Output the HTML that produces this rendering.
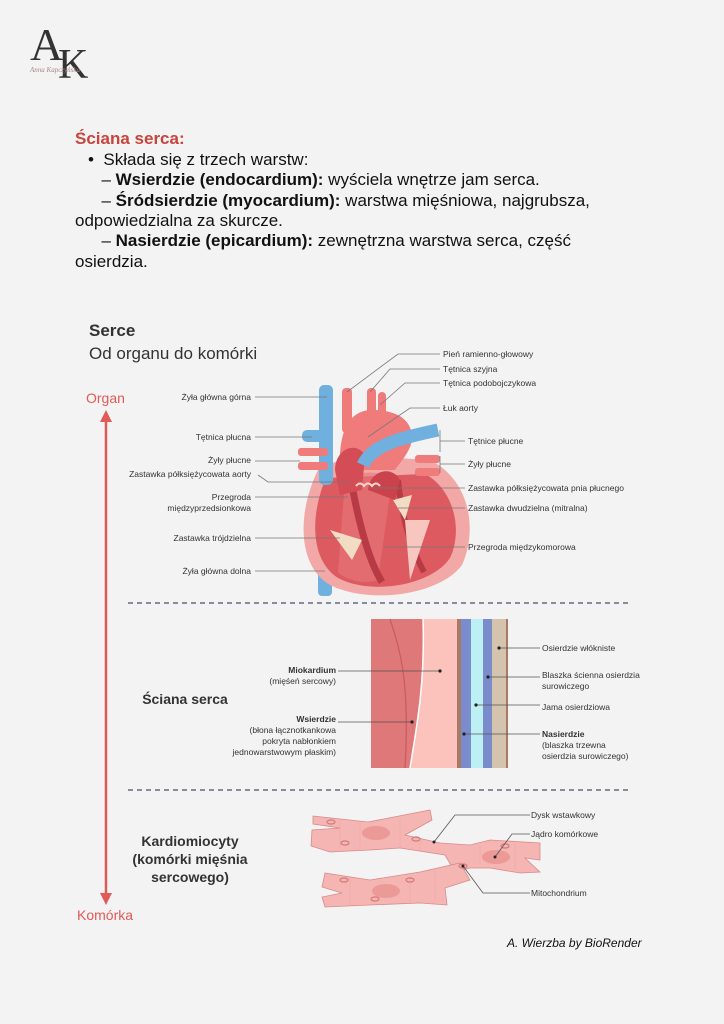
<!DOCTYPE html>
<html><head><meta charset="utf-8"><style>
body{margin:0;background:#f3f3f3;}
#p{position:relative;width:724px;height:1024px;overflow:hidden;background:#f3f3f3;font-family:"Liberation Sans",sans-serif;color:#111;}
.t{position:absolute;font-size:17px;line-height:20.5px;white-space:nowrap;}
</style></head><body><div id="p">
<div style="position:absolute;left:30px;top:22px;font-family:'Liberation Serif',serif;font-size:46px;color:#333;line-height:46px;">A</div>
<div style="position:absolute;left:58px;top:44px;font-family:'Liberation Serif',serif;font-size:42px;color:#333;line-height:42px;">K</div>
<div style="position:absolute;left:30px;top:66px;font-family:'Liberation Serif',serif;font-style:italic;font-size:7px;color:#a88;">Anna Kapczyńska</div>
<div class="t" style="left:75px;top:129px;color:#c8443c;font-weight:bold;">Ściana serca:</div>
<div class="t" style="left:88px;top:150px;">•&nbsp; Składa się z trzech warstw:</div>
<div class="t" style="left:92px;top:170px;">&nbsp;&nbsp;– <b>Wsierdzie (endocardium):</b> wyściela wnętrze jam serca.</div>
<div class="t" style="left:92px;top:191px;">&nbsp;&nbsp;– <b>Śródsierdzie (myocardium):</b> warstwa mięśniowa, najgrubsza,</div>
<div class="t" style="left:75px;top:211px;">odpowiedzialna za skurcze.</div>
<div class="t" style="left:92px;top:231px;">&nbsp;&nbsp;– <b>Nasierdzie (epicardium):</b> zewnętrzna warstwa serca, część</div>
<div class="t" style="left:75px;top:252px;">osierdzia.</div>

<svg width="724" height="1024" style="position:absolute;left:0;top:0" font-family="Liberation Sans, sans-serif">
<text x="89" y="336" font-size="17" font-weight="bold" fill="#333">Serce</text>
<text x="89" y="359" font-size="17" fill="#333">Od organu do komórki</text>
<text x="86" y="403" font-size="14" fill="#e05a57">Organ</text>
<text x="77" y="920" font-size="14" fill="#e05a57">Komórka</text>
<line x1="106" y1="420" x2="106" y2="895" stroke="#e05a57" stroke-width="2.5"/>
<polygon points="100,422 112,422 106,410" fill="#e05a57"/>
<polygon points="100,893 112,893 106,905" fill="#e05a57"/>
<line x1="128" y1="603" x2="628" y2="603" stroke="#666a80" stroke-width="1.5" stroke-dasharray="5,4"/>
<line x1="128" y1="790" x2="628" y2="790" stroke="#666a80" stroke-width="1.5" stroke-dasharray="5,4"/>

<!-- heart -->
<g>
<rect x="318" y="560" width="14" height="36" rx="4" fill="#6fb0de"/>
<path d="M318 470 C298 510 296 565 330 585 C370 605 440 595 462 565 C478 530 470 480 430 460 L350 455 Z" fill="#f2a8a6"/>
<path d="M326 478 C310 515 310 560 338 578 C372 596 432 585 450 558 C464 528 452 488 425 474 Z" fill="#dc5a60"/>
<path d="M345 480 C362 470 380 470 392 480 L378 580 C365 585 345 580 338 572 Z" fill="#e8787c" opacity=".6"/>
<path d="M350 475 C358 520 368 560 382 582" stroke="#b83a44" stroke-width="7" fill="none"/>
<path d="M398 480 C402 520 412 550 424 572" stroke="#b83a44" stroke-width="6" fill="none"/>
<path d="M405 520 L430 520 L410 580 Z" fill="#f7c6bf"/>
<path d="M330 530 L362 540 L352 560 Z" fill="#f2dcc4"/>
<path d="M393 500 L412 495 L405 520 Z" fill="#f2dcc4"/>
<!-- aorta arch -->
<path d="M340 470 C338 430 350 410 372 410 C395 410 410 418 412 435 C413 450 400 462 395 470 Z" fill="#ef7b7b"/>
<rect x="342" y="388" width="10" height="45" rx="4" fill="#ef7b7b"/>
<rect x="367" y="388" width="9" height="36" rx="4" fill="#ef7b7b"/>
<rect x="378" y="392" width="8" height="32" rx="4" fill="#ef7b7b"/>
<!-- left atrium / trunk chambers -->
<path d="M335 470 C335 450 355 440 365 455 L362 490 L340 495 Z" fill="#d44c55"/>
<path d="M368 490 C370 470 392 465 400 480 L395 500 Z" fill="#c9424c"/>
<rect x="319" y="385" width="14" height="100" rx="5" fill="#6fb0de"/>
<rect x="302" y="430" width="22" height="12" rx="5" fill="#6fb0de"/>
<path d="M363 465 C372 445 400 438 438 430" stroke="#6fb0de" stroke-width="13" fill="none"/>
<rect x="298" y="448" width="30" height="8" rx="3" fill="#ef7b7b"/>
<rect x="298" y="462" width="30" height="8" rx="3" fill="#ef7b7b"/>
<rect x="415" y="455" width="25" height="8" rx="3" fill="#ef7b7b"/>
<rect x="415" y="468" width="25" height="8" rx="3" fill="#ef7b7b"/>
<path d="M356 486 q4 -5 8 0 q4 -5 8 0 q4 -5 8 0" stroke="#f7d7cc" stroke-width="2" fill="none"/>
</g>
<g stroke="#777" stroke-width="0.8" fill="none">
<path d="M255 397 H327"/><path d="M255 437 H312"/><path d="M255 461 H300"/><path d="M258 475 L268 482 H350"/><path d="M255 497 H348"/><path d="M255 538 H340"/><path d="M255 571 H325"/>
<path d="M440 354 H398 L347 392"/><path d="M440 369 H390 L370 392"/><path d="M440 383 H405 L380 405"/><path d="M440 408 H410 L368 437"/>
<path d="M440 430 V452 M440 441 H465"/><path d="M440 456 V473 M440 464 H465"/><path d="M372 488 H465"/><path d="M398 508 H465"/><path d="M385 547 H465"/>
</g>
<g font-size="8.5" fill="#333">
<text x="251" y="400" text-anchor="end">Żyła główna górna</text>
<text x="251" y="440" text-anchor="end">Tętnica płucna</text>
<text x="251" y="463" text-anchor="end">Żyły płucne</text>
<text x="251" y="477" text-anchor="end">Zastawka półksiężycowata aorty</text>
<text x="251" y="500" text-anchor="end">Przegroda</text>
<text x="251" y="511" text-anchor="end">międzyprzedsionkowa</text>
<text x="251" y="541" text-anchor="end">Zastawka trójdzielna</text>
<text x="251" y="574" text-anchor="end">Żyła główna dolna</text>
<text x="443" y="357">Pień ramienno-głowowy</text>
<text x="443" y="372">Tętnica szyjna</text>
<text x="443" y="386">Tętnica podobojczykowa</text>
<text x="443" y="411">Łuk aorty</text>
<text x="468" y="444">Tętnice płucne</text>
<text x="468" y="467">Żyły płucne</text>
<text x="468" y="491">Zastawka półksiężycowata pnia płucnego</text>
<text x="468" y="511">Zastawka dwudzielna (mitralna)</text>
<text x="468" y="550">Przegroda międzykomorowa</text>
</g>

<!-- wall -->
<rect x="371" y="619" width="52" height="149" fill="#df7878"/>
<path d="M390 619 C400 650 410 680 405 768" stroke="#c95a60" stroke-width="1.2" fill="none"/>
<path d="M423 619 H458 V768 H410 C418 720 425 680 423 619 Z" fill="#fbc3bb"/>
<path d="M423 619 C425 680 418 720 410 768" stroke="#fff" stroke-width="1.5" fill="none"/>
<rect x="457" y="619" width="4" height="149" fill="#a87a66"/>
<rect x="461" y="619" width="10" height="149" fill="#7b8ccc"/>
<rect x="471" y="619" width="12" height="149" fill="#bdf0f5"/>
<rect x="483" y="619" width="9" height="149" fill="#7b8ccc"/>
<rect x="492" y="619" width="14" height="149" fill="#d4c4ad"/>
<rect x="506" y="619" width="2" height="149" fill="#a87a66"/>
<g stroke="#555" stroke-width="0.8"><path d="M338 671 H440"/><path d="M338 722 H412"/><path d="M499 648 H540"/><path d="M488 677 H540"/><path d="M476 705 H540"/><path d="M464 734 H540"/></g>
<g fill="#222"><circle cx="440" cy="671" r="1.6"/><circle cx="412" cy="722" r="1.6"/><circle cx="499" cy="648" r="1.6"/><circle cx="488" cy="677" r="1.6"/><circle cx="476" cy="705" r="1.6"/><circle cx="464" cy="734" r="1.6"/></g>
<g font-size="8.5" fill="#333">
<text x="336" y="673" text-anchor="end" font-weight="bold">Miokardium</text>
<text x="336" y="684" text-anchor="end">(mięśeń sercowy)</text>
<text x="336" y="722" text-anchor="end" font-weight="bold">Wsierdzie</text>
<text x="336" y="733" text-anchor="end">(błona łącznotkankowa</text>
<text x="336" y="744" text-anchor="end">pokryta nabłonkiem</text>
<text x="336" y="755" text-anchor="end">jednowarstwowym płaskim)</text>
<text x="542" y="651">Osierdzie włókniste</text>
<text x="542" y="678">Blaszka ścienna osierdzia</text>
<text x="542" y="689">surowiczego</text>
<text x="542" y="710">Jama osierdziowa</text>
<text x="542" y="737" font-weight="bold">Nasierdzie</text>
<text x="542" y="748">(blaszka trzewna</text>
<text x="542" y="759">osierdzia surowiczego)</text>
</g>
<text x="185" y="704" font-size="14" font-weight="bold" fill="#333" text-anchor="middle">Ściana serca</text>
<text x="190" y="846" font-size="14" font-weight="bold" fill="#333" text-anchor="middle">Kardiomiocyty</text>
<text x="190" y="864" font-size="14" font-weight="bold" fill="#333" text-anchor="middle">(komórki mięśnia</text>
<text x="190" y="882" font-size="14" font-weight="bold" fill="#333" text-anchor="middle">sercowego)</text>

<!-- cells -->
<g fill="#f5b5b3" stroke="#d88a8a" stroke-width="0.8">
<path d="M313 816 L368 822 L430 810 L432 820 L405 835 L440 843 L470 845 L490 840 L540 843 L540 860 L525 858 L540 872 L520 873 L490 868 L470 868 L455 872 L445 855 L400 848 L370 850 L330 852 L311 846 L312 830 L340 828 L313 824 Z"/>
<path d="M325 873 L370 880 L420 872 L460 863 L470 880 L445 888 L447 905 L420 903 L370 905 L325 907 L322 897 L342 893 L322 887 Z"/>
</g>
<g stroke="#e8a2a2" stroke-width="0.5">
<path d="M340 820 V848 M360 822 V850 M400 820 V848 M420 838 V852 M480 845 V866 M515 844 V870 M350 878 V905 M410 876 V904 M435 870 V900"/>
</g>
<g fill="#eb9a98"><ellipse cx="376" cy="833" rx="14" ry="7"/><ellipse cx="496" cy="857" rx="14" ry="7"/><ellipse cx="386" cy="891" rx="14" ry="7"/></g>
<g fill="none" stroke="#d27a7a" stroke-width="1.2"><ellipse cx="331" cy="822" rx="4" ry="2"/><ellipse cx="345" cy="843" rx="4" ry="2"/><ellipse cx="416" cy="839" rx="4" ry="2"/><ellipse cx="463" cy="866" rx="4" ry="2"/><ellipse cx="344" cy="880" rx="4" ry="2"/><ellipse cx="375" cy="899" rx="4" ry="2"/><ellipse cx="410" cy="880" rx="4" ry="2"/><ellipse cx="505" cy="846" rx="4" ry="2"/></g>
<g stroke="#555" stroke-width="0.8" fill="none"><path d="M434 842 L455 815 H530"/><path d="M495 857 L512 834 H530"/><path d="M463 866 L483 893 H530"/></g>
<g fill="#222"><circle cx="434" cy="842" r="1.5"/><circle cx="495" cy="857" r="1.5"/><circle cx="463" cy="866" r="1.5"/></g>
<g font-size="8.5" fill="#333"><text x="531" y="818">Dysk wstawkowy</text><text x="531" y="837">Jądro komórkowe</text><text x="531" y="896">Mitochondrium</text></g>
<text x="507" y="947" font-size="12" font-style="italic" fill="#111">A. Wierzba by BioRender</text>
</svg>
</div></body></html>
